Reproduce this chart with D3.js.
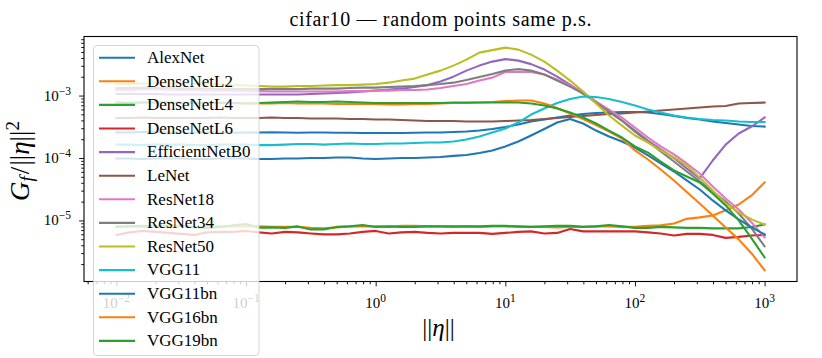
<!DOCTYPE html>
<html><head><meta charset="utf-8">
<script src="https://cdn.jsdelivr.net/npm/d3@7"></script>
<style>body{margin:0;background:#fff}svg{display:block}</style>
</head><body>
<svg id="c" width="822" height="358"></svg>
<script>
// ---- data ----
const eta = [0.01,0.0126,0.0158,0.02,0.0251,0.0316,0.0398,0.0501,0.0631,0.0794,
0.1,0.126,0.158,0.2,0.251,0.316,0.398,0.501,0.631,0.794,
1,1.26,1.58,2.0,2.51,3.16,3.98,5.01,6.31,7.94,
10,12.6,15.8,20,25.1,31.6,39.8,50.1,63.1,79.4,
100,126,158,200,251,316,398,501,631,794,1000];

const AlexNet = [2.56e-4,2.56e-4,2.61e-4,2.61e-4,2.56e-4,2.56e-4,2.56e-4,2.58e-4,2.56e-4,2.54e-4,
2.56e-4,2.56e-4,2.58e-4,2.56e-4,2.54e-4,2.56e-4,2.56e-4,2.54e-4,2.54e-4,2.51e-4,
2.51e-4,2.51e-4,2.51e-4,2.54e-4,2.56e-4,2.56e-4,2.61e-4,2.66e-4,2.75e-4,2.91e-4,
3.13e-4,3.44e-4,3.84e-4,4.13e-4,4.45e-4,4.79e-4,5.06e-4,5.25e-4,5.35e-4,5.45e-4,
5.45e-4,5.35e-4,5.06e-4,4.70e-4,4.37e-4,4.13e-4,3.84e-4,3.63e-4,3.44e-4,3.25e-4,3.19e-4];
const DenseNetL2 = [8.02e-6,8.02e-6,7.87e-6,7.87e-6,8.02e-6,8.02e-6,7.87e-6,7.87e-6,8.02e-6,8.02e-6,
8.02e-6,8.02e-6,7.87e-6,7.87e-6,7.87e-6,7.59e-6,7.45e-6,7.73e-6,8.02e-6,8.02e-6,
8.02e-6,7.87e-6,8.17e-6,8.17e-6,8.02e-6,8.02e-6,7.87e-6,8.02e-6,7.87e-6,8.02e-6,
8.02e-6,7.87e-6,7.87e-6,7.87e-6,7.73e-6,7.87e-6,7.87e-6,8.02e-6,8.02e-6,7.87e-6,
7.87e-6,8.17e-6,8.32e-6,8.95e-6,1.06e-5,1.12e-5,1.20e-5,1.45e-5,1.80e-5,2.51e-5,4.06e-5];
const DenseNetL4 = [7.87e-6,8.02e-6,8.17e-6,8.02e-6,8.32e-6,8.17e-6,7.73e-6,7.59e-6,7.87e-6,8.32e-6,
8.79e-6,7.66e-6,7.73e-6,7.59e-6,8.02e-6,7.18e-6,7.18e-6,7.87e-6,8.02e-6,8.47e-6,
7.87e-6,8.02e-6,7.87e-6,7.87e-6,8.02e-6,8.02e-6,8.02e-6,8.02e-6,8.02e-6,8.17e-6,
8.17e-6,8.02e-6,7.87e-6,8.02e-6,8.17e-6,8.17e-6,7.87e-6,8.02e-6,8.47e-6,8.02e-6,
7.59e-6,7.59e-6,7.87e-6,7.73e-6,7.59e-6,7.59e-6,7.45e-6,7.45e-6,7.45e-6,7.87e-6,8.6e-6];
const DenseNetL6 = [5.86e-6,6.43e-6,6.79e-6,6.55e-6,6.31e-6,6.08e-6,5.86e-6,6.43e-6,6.55e-6,6.55e-6,
6.79e-6,6.43e-6,6.19e-6,6.55e-6,6.43e-6,6.19e-6,5.97e-6,5.97e-6,6.19e-6,6.55e-6,
6.79e-6,6.19e-6,6.43e-6,6.55e-6,6.31e-6,6.19e-6,6.31e-6,6.31e-6,6.31e-6,6.08e-6,
6.31e-6,6.55e-6,6.67e-6,6.19e-6,6.31e-6,7.31e-6,6.67e-6,6.67e-6,6.67e-6,6.67e-6,
6.67e-6,6.43e-6,6.19e-6,5.75e-6,6.08e-6,6.08e-6,5.86e-6,5.25e-6,5.45e-6,5.75e-6,5.86e-6];
const EfficientNetB0 = [1.06e-3,1.06e-3,1.06e-3,1.06e-3,1.04e-3,1.04e-3,1.04e-3,1.04e-3,1.04e-3,1.04e-3,
1.04e-3,1.04e-3,1.04e-3,1.04e-3,1.04e-3,1.06e-3,1.08e-3,1.10e-3,1.12e-3,1.16e-3,
1.20e-3,1.25e-3,1.29e-3,1.37e-3,1.47e-3,1.68e-3,2.01e-3,2.51e-3,3.02e-3,3.50e-3,
3.84e-3,3.63e-3,3.19e-3,2.61e-3,2.01e-3,1.50e-3,1.08e-3,8.02e-4,5.55e-4,3.98e-4,
2.75e-4,1.90e-4,1.37e-4,1.0e-4,6.79e-5,4.70e-5,9.12e-5,1.64e-4,2.47e-4,3.19e-4,4.45e-4];
const LeNet = [4.37e-4,4.37e-4,4.45e-4,4.37e-4,4.37e-4,4.37e-4,4.37e-4,4.37e-4,4.45e-4,4.37e-4,
4.37e-4,4.37e-4,4.45e-4,4.37e-4,4.37e-4,4.29e-4,4.29e-4,4.29e-4,4.21e-4,4.21e-4,
4.13e-4,4.13e-4,4.06e-4,3.98e-4,3.91e-4,3.91e-4,3.91e-4,3.84e-4,3.84e-4,3.84e-4,
3.91e-4,3.98e-4,4.06e-4,4.21e-4,4.37e-4,4.53e-4,4.70e-4,4.88e-4,5.06e-4,5.15e-4,
5.35e-4,5.55e-4,5.75e-4,5.97e-4,6.19e-4,6.43e-4,6.67e-4,6.79e-4,7.45e-4,7.59e-4,7.73e-4];
const ResNet18 = [1.23e-3,1.23e-3,1.25e-3,1.25e-3,1.23e-3,1.23e-3,1.23e-3,1.20e-3,1.20e-3,1.20e-3,
1.18e-3,1.18e-3,1.16e-3,1.16e-3,1.16e-3,1.16e-3,1.16e-3,1.16e-3,1.18e-3,1.18e-3,
1.20e-3,1.20e-3,1.23e-3,1.23e-3,1.25e-3,1.32e-3,1.42e-3,1.53e-3,1.74e-3,1.94e-3,
2.38e-3,2.42e-3,2.38e-3,2.17e-3,1.80e-3,1.47e-3,1.12e-3,8.02e-4,5.97e-4,4.45e-4,
3.08e-4,2.13e-4,1.53e-4,1.14e-4,8.17e-5,5.65e-5,3.5e-5,2.25e-5,1.5e-5,9.3e-6,5.35e-6];
const ResNet34 = [1.32e-3,1.32e-3,1.34e-3,1.32e-3,1.32e-3,1.29e-3,1.29e-3,1.29e-3,1.27e-3,1.27e-3,
1.27e-3,1.27e-3,1.27e-3,1.27e-3,1.27e-3,1.29e-3,1.29e-3,1.29e-3,1.32e-3,1.34e-3,
1.34e-3,1.37e-3,1.39e-3,1.42e-3,1.47e-3,1.53e-3,1.61e-3,1.77e-3,1.98e-3,2.21e-3,
2.51e-3,2.66e-3,2.51e-3,2.17e-3,1.74e-3,1.39e-3,1.08e-3,7.73e-4,5.55e-4,3.98e-4,
2.65e-4,1.84e-4,1.27e-4,8.79e-5,6.08e-5,4.21e-5,2.91e-5,2.01e-5,1.29e-5,7.45e-6,3.84e-6];
const ResNet50 = [1.53e-3,1.53e-3,1.56e-3,1.56e-3,1.58e-3,1.56e-3,1.53e-3,1.56e-3,1.50e-3,1.47e-3,
1.45e-3,1.42e-3,1.39e-3,1.39e-3,1.42e-3,1.42e-3,1.45e-3,1.47e-3,1.47e-3,1.50e-3,
1.53e-3,1.61e-3,1.74e-3,1.87e-3,2.17e-3,2.51e-3,3.02e-3,3.77e-3,4.88e-3,5.35e-3,
5.86e-3,5.45e-3,4.53e-3,3.50e-3,2.51e-3,1.74e-3,1.16e-3,7.45e-4,4.79e-4,3.31e-4,
2.29e-4,1.77e-4,1.32e-4,1.02e-4,7.6e-5,4.88e-5,3.02e-5,1.87e-5,1.34e-5,1.04e-5,8.6e-6];
const VGG11 = [1.64e-4,1.64e-4,1.61e-4,1.64e-4,1.64e-4,1.64e-4,1.61e-4,1.61e-4,1.64e-4,1.64e-4,
1.64e-4,1.61e-4,1.61e-4,1.64e-4,1.68e-4,1.68e-4,1.64e-4,1.68e-4,1.71e-4,1.68e-4,
1.68e-4,1.71e-4,1.71e-4,1.74e-4,1.77e-4,1.77e-4,1.84e-4,1.98e-4,2.21e-4,2.56e-4,
2.97e-4,3.70e-4,4.97e-4,6.19e-4,7.59e-4,8.79e-4,9.64e-4,9.46e-4,8.79e-4,7.87e-4,
6.92e-4,5.97e-4,5.35e-4,4.79e-4,4.45e-4,4.21e-4,4.06e-4,3.98e-4,3.84e-4,3.77e-4,3.77e-4];
const VGG11bn = [9.82e-5,9.82e-5,9.64e-5,9.82e-5,9.82e-5,9.82e-5,9.64e-5,9.64e-5,9.82e-5,9.82e-5,
9.82e-5,9.64e-5,9.64e-5,9.82e-5,9.82e-5,1.0e-4,1.0e-4,1.02e-4,1.02e-4,9.82e-5,
9.64e-5,9.82e-5,1.0e-4,1.0e-4,1.02e-4,1.04e-4,1.08e-4,1.12e-4,1.20e-4,1.32e-4,
1.53e-4,1.84e-4,2.29e-4,2.91e-4,3.70e-4,4.21e-4,3.57e-4,2.75e-4,2.21e-4,1.84e-4,
1.47e-4,1.10e-4,8.17e-5,6.08e-5,4.37e-5,3.13e-5,2.09e-5,1.45e-5,1.04e-5,7.73e-6,5.97e-6];
const VGG16bn = [7.73e-4,7.73e-4,7.73e-4,7.59e-4,7.73e-4,7.73e-4,7.73e-4,7.59e-4,7.59e-4,7.59e-4,
7.45e-4,7.45e-4,7.45e-4,7.59e-4,7.45e-4,7.45e-4,7.45e-4,7.31e-4,7.31e-4,7.31e-4,
7.31e-4,7.18e-4,7.18e-4,7.31e-4,7.31e-4,7.45e-4,7.59e-4,7.59e-4,7.73e-4,7.87e-4,
8.17e-4,8.32e-4,8.32e-4,7.45e-4,6.31e-4,5.15e-4,4.21e-4,3.37e-4,2.65e-4,2.05e-4,
1.32e-4,9.46e-5,6.55e-5,4.37e-5,2.86e-5,1.87e-5,1.20e-5,7.73e-6,4.97e-6,2.96e-6,1.585e-6];
const VGG19bn = [7.73e-4,7.59e-4,7.73e-4,7.87e-4,7.73e-4,7.59e-4,7.45e-4,7.59e-4,7.73e-4,7.59e-4,
7.45e-4,7.59e-4,7.73e-4,7.87e-4,8.02e-4,7.87e-4,7.87e-4,8.02e-4,7.87e-4,7.73e-4,
7.59e-4,7.59e-4,7.59e-4,7.59e-4,7.59e-4,7.59e-4,7.73e-4,7.73e-4,7.73e-4,7.73e-4,
7.73e-4,7.73e-4,7.45e-4,6.92e-4,6.19e-4,5.35e-4,4.45e-4,3.57e-4,2.75e-4,2.13e-4,
1.53e-4,1.22e-4,8.79e-5,6.31e-5,5.06e-5,4.06e-5,2.70e-5,1.74e-5,1.0e-5,5.15e-6,2.56e-6];

const seriesNames = ["AlexNet","DenseNetL2","DenseNetL4","DenseNetL6","EfficientNetB0","LeNet",
  "ResNet18","ResNet34","ResNet50","VGG11","VGG11bn","VGG16bn","VGG19bn"];
const seriesValues = [AlexNet,DenseNetL2,DenseNetL4,DenseNetL6,EfficientNetB0,LeNet,
  ResNet18,ResNet34,ResNet50,VGG11,VGG11bn,VGG16bn,VGG19bn];
const xTickExponents = [-2,-1,0,1,2,3];
const yTickExponents = [-5,-4,-3];
const titleText = "cifar10 — random points same p.s.";

// ---- layout / style ----
const palette = ["#1f77b4","#ff7f0e","#2ca02c","#d62728","#9467bd","#8c564b","#e377c2","#7f7f7f","#bcbd22","#17becf"];
const FONT = "'Liberation Serif','Times New Roman',serif";
const P = {left:84, right:797, top:36.5, bottom:281.5};

const svg = d3.select("#c");

function paddedLogDomain(vals){
  const e = d3.extent(vals).map(Math.log10);
  const pad = 0.05*(e[1]-e[0]);
  return [Math.pow(10,e[0]-pad), Math.pow(10,e[1]+pad)];
}
const x = d3.scaleLog().domain(paddedLogDomain(eta)).range([P.left, P.right]);
const y = d3.scaleLog().domain(paddedLogDomain(seriesValues.flat())).range([P.bottom, P.top]);

function minorTicks(scale){
  const [a,b] = scale.domain();
  const out = [];
  for(let k=Math.floor(Math.log10(a)); k<=Math.ceil(Math.log10(b)); k++){
    for(let m=2;m<=9;m++){ const v=m*Math.pow(10,k); if(v>=a && v<=b) out.push(v); }
  }
  return out;
}
const xMajor = xTickExponents.map(e=>Math.pow(10,e));
const yMajor = yTickExponents.map(e=>Math.pow(10,e));

// ticks via d3 axes
const gxMinor = svg.append("g").attr("transform",`translate(0,${P.bottom})`)
  .call(d3.axisBottom(x).tickValues(minorTicks(x)).tickSize(2.8).tickFormat(()=>""));
const gxMajor = svg.append("g").attr("transform",`translate(0,${P.bottom})`)
  .call(d3.axisBottom(x).tickValues(xMajor).tickSize(4.9).tickFormat(()=>""));
const gyMinor = svg.append("g").attr("transform",`translate(${P.left},0)`)
  .call(d3.axisLeft(y).tickValues(minorTicks(y)).tickSize(2.8).tickFormat(()=>""));
const gyMajor = svg.append("g").attr("transform",`translate(${P.left},0)`)
  .call(d3.axisLeft(y).tickValues(yMajor).tickSize(4.9).tickFormat(()=>""));
[gxMinor,gxMajor,gyMinor,gyMajor].forEach(g=>{
  g.select(".domain").remove();
  g.selectAll("line").attr("stroke","#000").attr("stroke-width",0.9);
});

// tick labels
xTickExponents.forEach(e=>{
  const t = svg.append("text").attr("x",x(Math.pow(10,e))).attr("y",308)
    .attr("text-anchor","middle").attr("font-family",FONT).attr("font-size",15).attr("fill","#000");
  t.append("tspan").text("10");
  t.append("tspan").attr("font-size",11.5).attr("dy",-6.5).text(e<0?"\u2212"+(-e):String(e));
});
yTickExponents.forEach(e=>{
  const t = svg.append("text").attr("x",71).attr("y",y(Math.pow(10,e))+5)
    .attr("text-anchor","end").attr("font-family",FONT).attr("font-size",15).attr("fill","#000");
  t.append("tspan").text("10");
  t.append("tspan").attr("font-size",11.5).attr("dy",-6).text(e<0?"\u2212"+(-e):String(e));
});

// lines
const line = d3.line().x((d,i)=>x(eta[i])).y(d=>y(d));
seriesValues.forEach((vals,k)=>{
  svg.append("path").datum(vals).attr("d",line)
    .attr("fill","none").attr("stroke",palette[k%10]).attr("stroke-width",2.1)
    .attr("stroke-linejoin","round").attr("stroke-linecap","square");
});

// frame
svg.append("rect").attr("x",P.left).attr("y",P.top).attr("width",P.right-P.left).attr("height",P.bottom-P.top)
  .attr("fill","none").attr("stroke","#000").attr("stroke-width",1.1);

// title
svg.append("text").attr("x",(P.left+P.right)/2).attr("y",26).attr("text-anchor","middle")
  .attr("font-family",FONT).attr("font-size",20).attr("fill","#000")
  .attr("textLength",302).attr("lengthAdjust","spacing").text(titleText);

// x label
const xl = svg.append("text").attr("x",(P.left+P.right)/2-2).attr("y",336).attr("text-anchor","middle")
  .attr("font-family",FONT).attr("font-size",25).attr("fill","#000");
xl.append("tspan").text("||");
xl.append("tspan").attr("font-style","italic").text("η");
xl.append("tspan").text("||");

// y label
const yl = svg.append("text").attr("transform",`translate(29,161) rotate(-90)`)
  .attr("text-anchor","middle").attr("font-family",FONT).attr("font-size",27).attr("fill","#000");
yl.append("tspan").attr("font-style","italic").text("G");
yl.append("tspan").attr("font-style","italic").attr("font-size",19).attr("dy",4).text("f");
yl.append("tspan").attr("dy",-4).attr("dx",2).text("/");
yl.append("tspan").attr("dx",1).text("||");
yl.append("tspan").attr("font-style","italic").text("η");
yl.append("tspan").text("||");
yl.append("tspan").attr("font-size",19).attr("dy",-10).text("2");

// legend
const L = {x:93, y:45, w:165.5, h:310, row:23.6, first:57.7};
svg.append("rect").attr("x",L.x+0.5).attr("y",L.y+0.5).attr("width",L.w).attr("height",L.h)
  .attr("rx",3.5).attr("ry",3.5).attr("fill","#fff").attr("fill-opacity",0.8)
  .attr("stroke","#ccc").attr("stroke-opacity",0.8).attr("stroke-width",1);
seriesNames.forEach((name,k)=>{
  const yy = L.first + k*L.row;
  svg.append("line").attr("x1",99).attr("x2",135).attr("y1",yy).attr("y2",yy)
    .attr("stroke",palette[k%10]).attr("stroke-width",2.1);
  svg.append("text").attr("x",147).attr("y",yy+5.2).attr("font-family",FONT).attr("font-size",17)
    .attr("fill","#000").text(name);
});
</script>
</body></html>
